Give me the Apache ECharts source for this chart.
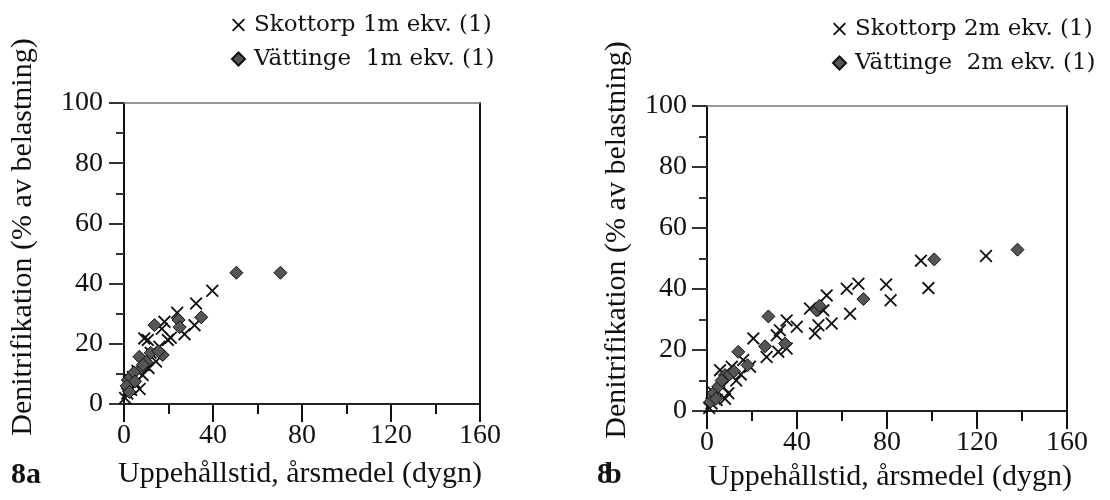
<!DOCTYPE html>
<html>
<head>
<meta charset="utf-8">
<script src="https://cdn.jsdelivr.net/npm/echarts@6/dist/echarts.min.js"></script>
<style>html,body{margin:0;padding:0;background:#fff}#c{width:1110px;height:500px}</style>
</head>
<body>
<div id="c"></div>
<script>
// ---- data ----
var xTickLabels = ['0', '40', '80', '120', '160'];
var yTickLabels = ['0', '20', '40', '60', '80', '100'];
var seriesNames = ['Skottorp 1m ekv. (1)', 'Vättinge  1m ekv. (1)', 'Skottorp 2m ekv. (1)', 'Vättinge  2m ekv. (1)'];
var xTitle = 'Uppehållstid, årsmedel (dygn)';
var yTitle = 'Denitrifikation (% av belastning)';

var skottorp1 = [[39.7,37.6],[32.4,33.4],[23.9,30.3],[31.7,26.2],[27.2,23.2],[18.2,27.3],[17,25],
  [10.7,21.3],[9.1,21.8],[14.4,14.1],[19.7,21.3],[15.9,19],[21,22],[12,17],[8.4,9.6],[5,7],[3.2,4.7],
  [0.5,2],[6,11],[9,13],[2,6],[4,9],[7,5],[1.5,3.5],[11,12],[3,8]];
var vattinge1 = [[50.5,43.6],[70.3,43.6],[34.7,28.8],[24.5,27.9],[25,25.5],[13.7,26.2],[17.4,16.3],
  [6.9,15.7],[7.7,11.9],[1.7,8],[1.2,6],[3,9],[4.5,10.5],[10,14],[12,17],[2.5,4],[5,7.5],[15.5,17.5],[8.5,13]];
var skottorp2 = [[124,50.8],[95.1,49.3],[98.4,40.3],[79.6,41.5],[81.6,36.3],[67.3,41.7],[62.1,40.1],
  [63.6,31.9],[55.4,28.7],[48,25.4],[51.7,33],[53.2,37.9],[45.8,33.6],[49.5,28.1],[39.9,27.6],
  [35.4,29.7],[32.4,26.5],[31,24.8],[35.4,20.5],[31.7,19.4],[26.5,17.7],[20.6,23.8],[19.1,14.5],
  [16.1,16.7],[11,14.5],[9.5,5.8],[5.8,13.4],[4.3,3.6],[1,1],[7,8],[13,10],[3,6],[2,2.5],[8,4],[15,12]];
var vattinge2 = [[138,52.9],[101,49.7],[69.5,36.7],[48.7,33],[27.3,31],[25.8,21.2],[34.7,22.1],
  [13.9,19.4],[8,11.8],[2.8,5.8],[5,8],[10,12],[1.5,3],[4,4],[6.5,10],[12,13],[18,15],[50,34.5]];

// ---- styling ----
var SERIF = '"Liberation Serif", "Times New Roman", serif';
var LEG = '"DejaVu Serif", serif';
var CROSS = 'path://M0,1L1,0L5,4L9,0L10,1L6,5L10,9L9,10L5,6L1,10L0,9L4,5Z';

function xAxisMain(gi) {
  return {
    gridIndex: gi, type: 'value', min: 0, max: 160, interval: 40, position: 'bottom',
    axisLine: {show: true, onZero: false, lineStyle: {color: '#222', width: 2}},
    axisTick: {show: true, inside: false, length: 18, lineStyle: {color: '#111', width: 2}},
    minorTick: {show: true, splitNumber: 2, length: 10, lineStyle: {color: '#111', width: 2}},
    splitLine: {show: false},
    axisLabel: {show: true, margin: 18, fontFamily: SERIF, fontSize: 28, color: '#111',
      formatter: function (v) { return xTickLabels[Math.round(v / 40)]; }}
  };
}
function xAxisTop(gi) {
  return {
    gridIndex: gi, type: 'value', min: 0, max: 160, position: 'top',
    axisLine: {show: true, onZero: false, lineStyle: {color: '#777', width: 1.5}},
    axisTick: {show: false}, axisLabel: {show: false}, splitLine: {show: false}
  };
}
function yAxisMain(gi, margin) {
  return {
    gridIndex: gi, type: 'value', min: 0, max: 100, interval: 20, position: 'left',
    axisLine: {show: true, onZero: false, lineStyle: {color: '#111', width: 2}},
    axisTick: {show: true, inside: false, length: 15, lineStyle: {color: '#333', width: 2}},
    minorTick: {show: true, splitNumber: 2, length: 8, lineStyle: {color: '#333', width: 2}},
    splitLine: {show: false},
    axisLabel: {show: true, margin: margin, fontFamily: SERIF, fontSize: 28, color: '#111',
      formatter: function (v) { return yTickLabels[Math.round(v / 20)]; }}
  };
}
function yAxisRight(gi) {
  return {
    gridIndex: gi, type: 'value', min: 0, max: 100, position: 'right',
    axisLine: {show: true, onZero: false, lineStyle: {color: '#111', width: 2}},
    axisTick: {show: false}, axisLabel: {show: false}, splitLine: {show: false}
  };
}
function crossSeries(name, data, xi, yi) {
  return {name: name, type: 'scatter', xAxisIndex: xi, yAxisIndex: yi, data: data,
    symbol: CROSS, symbolSize: 13, itemStyle: {color: '#111', opacity: 1}, z: 3};
}
function diamondSeries(name, data, xi, yi) {
  return {name: name, type: 'scatter', xAxisIndex: xi, yAxisIndex: yi, data: data,
    symbol: 'diamond', symbolSize: 13, itemStyle: {color: '#555', borderColor: '#111', borderWidth: 1, opacity: 1}, z: 4};
}
function legendAt(left, top, names) {
  return {
    orient: 'vertical', left: left, top: top, data: names.map(function (n) { return {name: n}; }),
    itemWidth: 13, itemHeight: 13, itemGap: 10, selectedMode: false,
    textStyle: {fontFamily: LEG, fontSize: 23, color: '#111', lineHeight: 24, padding: [0, 0, 0, 4]}
  };
}

var chart = echarts.init(document.getElementById('c'), null, {renderer: 'canvas'});
chart.setOption({
  backgroundColor: '#fff',
  animation: false,
  grid: [
    {left: 124, top: 103, width: 356, height: 301},
    {left: 707, top: 106, width: 360, height: 305}
  ],
  xAxis: [xAxisMain(0), xAxisTop(0), xAxisMain(1), xAxisTop(1)],
  yAxis: [yAxisMain(0, 21), yAxisRight(0), yAxisMain(1, 20), yAxisRight(1)],
  legend: [
    legendAt(226, 8, [seriesNames[0], seriesNames[1]]),
    legendAt(827, 12, [seriesNames[2], seriesNames[3]])
  ],
  series: [
    crossSeries(seriesNames[0], skottorp1, 0, 0),
    diamondSeries(seriesNames[1], vattinge1, 0, 0),
    crossSeries(seriesNames[2], skottorp2, 2, 2),
    diamondSeries(seriesNames[3], vattinge2, 2, 2)
  ],
  graphic: [
    {type: 'text', x: 23, y: 237, rotation: Math.PI / 2,
      style: {text: yTitle, font: '30px ' + SERIF, fill: '#111', textAlign: 'center', textVerticalAlign: 'middle'}},
    {type: 'text', x: 617, y: 240, rotation: Math.PI / 2,
      style: {text: yTitle, font: '30px ' + SERIF, fill: '#111', textAlign: 'center', textVerticalAlign: 'middle'}},
    {type: 'text', x: 300, y: 474,
      style: {text: xTitle, font: '30px ' + SERIF, fill: '#111', textAlign: 'center', textVerticalAlign: 'middle'}},
    {type: 'text', x: 890, y: 477,
      style: {text: xTitle, font: '30px ' + SERIF, fill: '#111', textAlign: 'center', textVerticalAlign: 'middle'}},
    {type: 'text', x: 11, y: 475,
      style: {text: '8a', font: 'bold 30px ' + SERIF, fill: '#111', textAlign: 'left', textVerticalAlign: 'middle'}},
    {type: 'text', x: 597, y: 475,
      style: {text: '8', font: 'bold 30px ' + SERIF, fill: '#111', textAlign: 'left', textVerticalAlign: 'middle'}},
    {type: 'text', x: 605, y: 475,
      style: {text: 'b', font: 'bold 30px ' + SERIF, fill: '#111', textAlign: 'left', textVerticalAlign: 'middle'}}
  ]
});
</script>
</body>
</html>
